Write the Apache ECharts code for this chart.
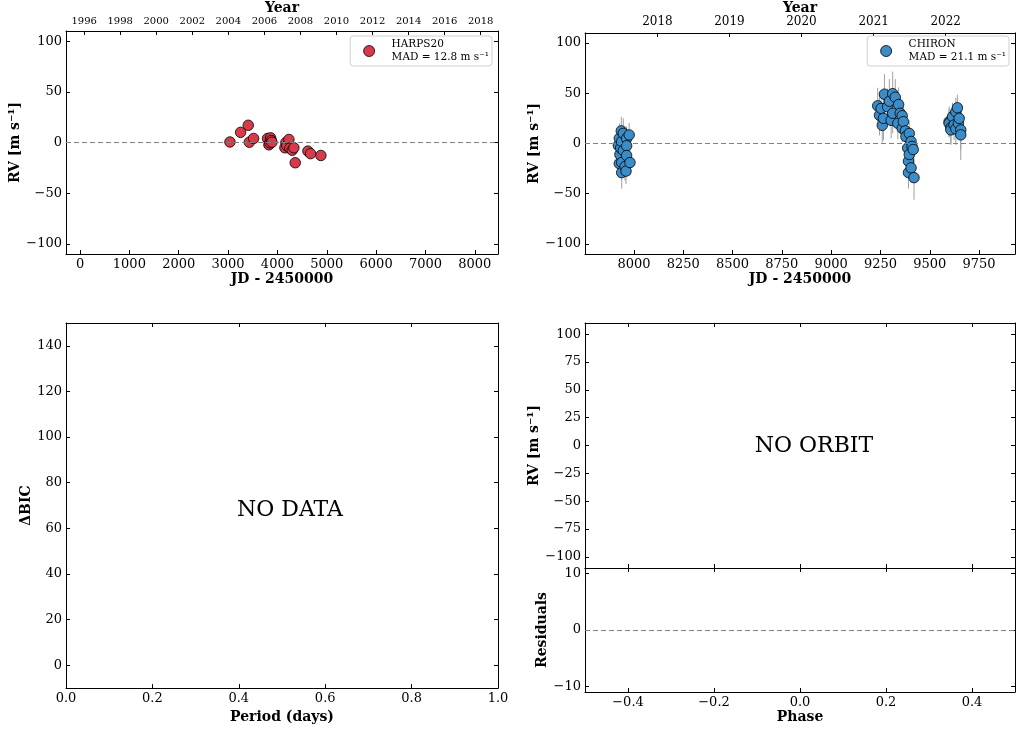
<!DOCTYPE html>
<html>
<head>
<meta charset="utf-8">
<script src="https://cdn.jsdelivr.net/npm/echarts@6/dist/echarts.min.js"></script>
<style>
  html, body { margin: 0; padding: 0; background: #fff; }
  #chart { width: 1016px; height: 729px; }
</style>
</head>
<body>
<div id="chart"></div>
<script>
// HARPS20 radial velocities (JD - 2450000, m/s)
const harpsJd = [3038, 3254, 3409, 3430, 3517, 3800, 3828, 3848, 3862, 3875, 3889,
                 4152, 4172, 4190, 4233, 4253, 4300, 4334, 4361, 4618, 4672, 4881];
const harpsRv = [0.5, 10, 17, 0.3, 4, 4, -2.3, -0.3, 4.6, 2, 0.3,
                 -5.2, 0, -3, 3, -5.6, -7.6, -5.2, -20, -8.5, -11, -12.8];

// CHIRON radial velocities with uncertainties (JD - 2450000, m/s)
const chironJd = [7921, 7926, 7926, 7929, 7933, 7936, 7938, 7938, 7938, 7946, 7946, 7955, 7960, 7963, 7963, 7963, 7976, 7980,
                  9236, 9245, 9253, 9259, 9265, 9270, 9286, 9295, 9304, 9312, 9312, 9325, 9338, 9342, 9350, 9360, 9360, 9366,
                  9376, 9379, 9388, 9392, 9392, 9396, 9396, 9405, 9405, 9410, 9416, 9420,
                  9598, 9598, 9607, 9607, 9615, 9623, 9632, 9632, 9640, 9645, 9649, 9657, 9657];
const chironRv = [-2, 5, -20, -11, -4.6, 12.5, 2, -19, -29, 10, -7, -23, -27.5, 5, -2.3, -12, 8.5, -19,
                  37.4, 28, 34.8, 18, 25, 49, 36.5, 42, 23, 49.5, 30, 46, 20, 38.7, 30, 27.6, 15, 21.7,
                  12.5, 6.9, -4.6, -17.7, -29, 10, -11, 2, -24.3, -3, -6, -34,
                  21.7, 20, 15.8, 13.5, 26.6, 18.4, 31.5, 14.5, 35.5, 20, 25, 13.5, 8.6];
const chironErr = [14, 15, 14, 13, 12, 14, 13, 15, 16, 15, 13, 14, 13, 12, 13, 14, 12, 13,
                   18, 20, 16, 17, 22, 20, 18, 22, 18, 22, 20, 18, 16, 17, 15, 16, 14, 15,
                   14, 13, 14, 15, 16, 13, 14, 13, 15, 14, 13, 22,
                   15, 14, 16, 15, 14, 15, 14, 16, 13, 14, 15, 20, 25];

// Tick positions
const jdTicksHarps = [0, 1000, 2000, 3000, 4000, 5000, 6000, 7000, 8000];
const yearTicksHarps = [1996, 1998, 2000, 2002, 2004, 2006, 2008, 2010, 2012, 2014, 2016, 2018];
const jdTicksChiron = [8000, 8250, 8500, 8750, 9000, 9250, 9500, 9750];
const yearTicksChiron = [2018, 2019, 2020, 2021, 2022];
const rvTicks = [-100, -50, 0, 50, 100];
const bicTicks = [0, 20, 40, 60, 80, 100, 120, 140];
const periodTicks = [0, 0.2, 0.4, 0.6, 0.8, 1.0];
const orbitRvTicks = [-100, -75, -50, -25, 0, 25, 50, 75, 100];
const residTicks = [-10, 0, 10];
const phaseTicks = [-0.4, -0.2, 0, 0.2, 0.4];

const FONT = 'DejaVu Serif';
const HARPS_COLOR = '#d63a4b';
const CHIRON_COLOR = '#3a8dc8';

// JD - 2450000 of 1 January of a given year
function yearToJd(y) { return Date.UTC(y, 0, 1) / 86400000 + 2440587.5 - 2450000; }
function jdToYear(jd) { return Math.round(2000 + (jd - 1544.5) / 365.25); }
function minus(s) { return String(s).replace('-', '\u2212'); }

const nameStyle = { fontFamily: FONT, fontSize: 14, fontWeight: 'bold', color: '#000' };
const lineStyle = { color: '#000', width: 1 };

function axis(o) {
  const ax = {
    type: 'value',
    gridIndex: o.grid,
    position: o.position,
    min: o.min,
    max: o.max,
    splitLine: { show: false },
    axisLine: { show: true, onZero: false, lineStyle: lineStyle },
    axisTick: { show: true, inside: true, length: 4, lineStyle: { color: '#000', width: 1 }, customValues: o.ticks },
    axisLabel: o.labels ? {
      show: true, customValues: o.ticks, margin: o.margin || 4,
      fontFamily: FONT, fontSize: o.fontSize || 13, color: '#000',
      formatter: o.fmt || (v => minus(v))
    } : { show: false },
    axisPointer: { show: false }
  };
  if (o.name) {
    ax.name = o.name;
    ax.nameLocation = 'middle';
    ax.nameGap = o.nameGap;
    ax.nameTextStyle = nameStyle;
  }
  return ax;
}

const harpsXMin = -284, harpsXMax = 8470;
const chironXMin = 7752, chironXMax = 9932;

const grids = [
  { left: 66, top: 31, width: 432, height: 223 },
  { left: 585, top: 31, width: 430, height: 223 },
  { left: 66, top: 323, width: 432, height: 369 },
  { left: 585, top: 323, width: 430, height: 245 },
  { left: 585, top: 568, width: 430, height: 124 }
];

const xAxes = [
  axis({ grid: 0, position: 'bottom', min: harpsXMin, max: harpsXMax, ticks: jdTicksHarps, labels: true,
         name: 'JD - 2450000', nameGap: 18 }),
  axis({ grid: 0, position: 'top', min: harpsXMin, max: harpsXMax, ticks: yearTicksHarps.map(yearToJd), labels: true,
         fontSize: 10, margin: 5, fmt: v => String(jdToYear(v)), name: 'Year', nameGap: 16 }),
  axis({ grid: 1, position: 'bottom', min: chironXMin, max: chironXMax, ticks: jdTicksChiron, labels: true,
         name: 'JD - 2450000', nameGap: 18 }),
  axis({ grid: 1, position: 'top', min: chironXMin, max: chironXMax, ticks: yearTicksChiron.map(yearToJd), labels: true,
         fontSize: 12, margin: 5, fmt: v => String(jdToYear(v)), name: 'Year', nameGap: 16 }),
  axis({ grid: 2, position: 'bottom', min: 0, max: 1, ticks: periodTicks, labels: true,
         fmt: v => v.toFixed(1), name: 'Period (days)', nameGap: 17 }),
  axis({ grid: 2, position: 'top', min: 0, max: 1, ticks: periodTicks, labels: false }),
  axis({ grid: 3, position: 'bottom', min: -0.5, max: 0.5, ticks: phaseTicks, labels: false }),
  axis({ grid: 3, position: 'top', min: -0.5, max: 0.5, ticks: phaseTicks, labels: false }),
  axis({ grid: 4, position: 'bottom', min: -0.5, max: 0.5, ticks: phaseTicks, labels: true,
         fmt: v => minus(v.toFixed(1)), name: 'Phase', nameGap: 17 }),
  axis({ grid: 4, position: 'top', min: -0.5, max: 0.5, ticks: phaseTicks, labels: false })
];

const yAxes = [
  axis({ grid: 0, position: 'left', min: -110, max: 110, ticks: rvTicks, labels: true, name: 'RV [m s\u207b\u00b9]', nameGap: 42 }),
  axis({ grid: 0, position: 'right', min: -110, max: 110, ticks: rvTicks, labels: false }),
  axis({ grid: 1, position: 'left', min: -110, max: 110, ticks: rvTicks, labels: true, name: 'RV [m s\u207b\u00b9]', nameGap: 42 }),
  axis({ grid: 1, position: 'right', min: -110, max: 110, ticks: rvTicks, labels: false }),
  axis({ grid: 2, position: 'left', min: -10, max: 150, ticks: bicTicks, labels: true, name: '\u0394BIC', nameGap: 32 }),
  axis({ grid: 2, position: 'right', min: -10, max: 150, ticks: bicTicks, labels: false }),
  axis({ grid: 3, position: 'left', min: -110, max: 110, ticks: orbitRvTicks, labels: true, name: 'RV [m s\u207b\u00b9]', nameGap: 43 }),
  axis({ grid: 3, position: 'right', min: -110, max: 110, ticks: orbitRvTicks, labels: false }),
  axis({ grid: 4, position: 'left', min: -11, max: 11, ticks: residTicks, labels: true, name: 'Residuals', nameGap: 36 }),
  axis({ grid: 4, position: 'right', min: -11, max: 11, ticks: residTicks, labels: false })
];

const zeroLine = {
  silent: true,
  symbol: ['none', 'none'],
  label: { show: false },
  lineStyle: { type: [5, 3], color: '#808080', width: 1 },
  data: [{ yAxis: 0 }]
};

function legendFor(name, mad, color, right) {
  return {
    data: [{ name: name, icon: 'circle', itemStyle: { color: color, borderColor: '#000', borderWidth: 0.8 } }],
    right: right, top: 36,
    orient: 'vertical',
    selectedMode: false,
    backgroundColor: '#fff',
    borderColor: '#d0d0d0', borderWidth: 1, borderRadius: 3,
    padding: [3, 3, 3, 13],
    itemWidth: 11, itemHeight: 11,
    formatter: () => '{t|' + name + '}\n{t|MAD = ' + mad + ' m s\u207b\u00b9}',
    textStyle: {
      fontFamily: FONT, fontSize: 10.5, color: '#000',
      rich: { t: { fontFamily: FONT, fontSize: 10.5, color: '#000', lineHeight: 13, padding: [0, 0, 0, 12] } }
    }
  };
}

const option = {
  animation: false,
  backgroundColor: '#fff',
  grid: grids,
  xAxis: xAxes,
  yAxis: yAxes,
  legend: [legendFor('HARPS20', '12.8', HARPS_COLOR, 524), legendFor('CHIRON', '21.1', CHIRON_COLOR, 7)],
  series: [
    {
      name: 'HARPS20', type: 'scatter', xAxisIndex: 0, yAxisIndex: 0, z: 3,
      symbolSize: 10.5,
      itemStyle: { color: HARPS_COLOR, borderColor: '#000', borderWidth: 0.8, opacity: 1 },
      data: harpsJd.map((x, i) => [x, harpsRv[i]]),
      markLine: zeroLine
    },
    {
      name: 'CHIRON errors', type: 'custom', xAxisIndex: 2, yAxisIndex: 2, z: 2, silent: true,
      encode: { x: 0, y: [1, 2] },
      data: chironJd.map((x, i) => [x, chironRv[i] - chironErr[i], chironRv[i] + chironErr[i]]),
      renderItem: function (params, api) {
        const lo = api.coord([api.value(0), api.value(1)]);
        const hi = api.coord([api.value(0), api.value(2)]);
        return { type: 'line', shape: { x1: lo[0], y1: lo[1], x2: hi[0], y2: hi[1] },
                 style: { stroke: '#a0a0a0', lineWidth: 1 } };
      }
    },
    {
      name: 'CHIRON', type: 'scatter', xAxisIndex: 2, yAxisIndex: 2, z: 3,
      symbolSize: 10.5,
      itemStyle: { color: CHIRON_COLOR, borderColor: '#000', borderWidth: 0.8, opacity: 1 },
      data: chironJd.map((x, i) => [x, chironRv[i]]),
      markLine: zeroLine
    },
    {
      name: 'Residuals', type: 'scatter', xAxisIndex: 8, yAxisIndex: 8,
      data: [],
      markLine: zeroLine
    }
  ],
  graphic: [
    { type: 'text', x: 290, y: 510, style: { text: 'NO DATA', font: '22px "DejaVu Serif"', fill: '#000', align: 'center', verticalAlign: 'middle' } },
    { type: 'text', x: 814, y: 446, style: { text: 'NO ORBIT', font: '22px "DejaVu Serif"', fill: '#000', align: 'center', verticalAlign: 'middle' } }
  ]
};

const chart = echarts.init(document.getElementById('chart'), null, { renderer: 'canvas' });
chart.setOption(option);
</script>
</body>
</html>
